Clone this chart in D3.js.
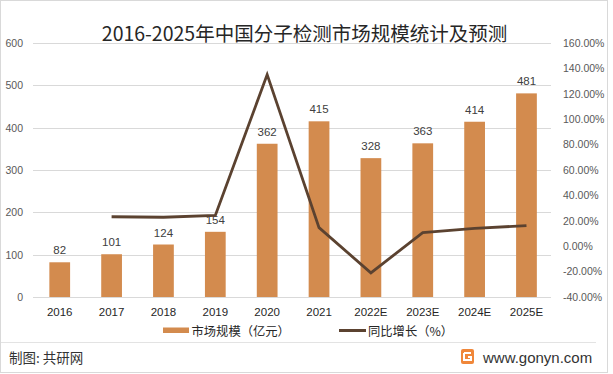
<!DOCTYPE html>
<html>
<head>
<meta charset="utf-8">
<script src="https://cdn.jsdelivr.net/npm/d3@7"></script>
<style>
  html, body { margin: 0; padding: 0; background: #fff; }
  svg { display: block; }
  text { font-family: "Liberation Sans", Arial, sans-serif; }
  .cjk { font-family: "Noto Sans CJK SC", "Noto Sans", sans-serif; }
</style>
</head>
<body>
<div id="chart"></div>
<script>
'use strict';

// data
var years = ['2016', '2017', '2018', '2019', '2020', '2021', '2022E', '2023E', '2024E', '2025E'];
var marketSize = [82, 101, 124, 154, 362, 415, 328, 363, 414, 481];          // 亿元
var growthRate = [null, 23.2, 22.8, 24.2, 135.1, 14.6, -21.0, 10.7, 14.0, 16.2]; // %
var leftTicks = [0, 100, 200, 300, 400, 500, 600];
var rightTicks = [-40, -20, 0, 20, 40, 60, 80, 100, 120, 140, 160];

var title = '2016-2025年中国分子检测市场规模统计及预测';
var barName = '市场规模（亿元）';
var lineName = '同比增长（%）';

var W = 613, H = 374;
var barColor = '#d38b4e';
var lineColor = '#5b4230';

var svg = d3.select('#chart').append('svg')
  .attr('width', W).attr('height', H);

// outer frame
svg.append('rect')
  .attr('x', 0.5).attr('y', 0.5)
  .attr('width', 607).attr('height', 372)
  .attr('fill', '#fff').attr('stroke', '#d9d9d9');

var x = d3.scaleBand().domain(years).range([33.8, 552.4]).paddingInner(0.6).paddingOuter(0.3);
var yL = d3.scaleLinear().domain([0, 600]).range([297, 43]);
var yR = d3.scaleLinear().domain([-40, 160]).range([297, 43]);

// gridlines
svg.append('g').selectAll('line')
  .data(leftTicks)
  .join('line')
  .attr('x1', 33).attr('x2', 551)
  .attr('y1', function(d) { return Math.round(yL(d)) + 0.5; })
  .attr('y2', function(d) { return Math.round(yL(d)) + 0.5; })
  .attr('stroke', '#d9d9d9');

// left axis
var leftAxis = svg.append('g')
  .attr('transform', 'translate(23,0)')
  .call(d3.axisLeft(yL).tickValues(leftTicks).tickSize(0).tickPadding(0));
leftAxis.select('.domain').remove();
leftAxis.selectAll('text')
  .attr('fill', '#595959')
  .style('font-size', '10.5px')
  .style('font-family', '"Liberation Sans", Arial, sans-serif');

// right axis
var rightAxis = svg.append('g')
  .attr('transform', 'translate(563,0)')
  .call(d3.axisRight(yR).tickValues(rightTicks).tickSize(0).tickPadding(0)
    .tickFormat(function(d) { return d.toFixed(2) + '%'; }));
rightAxis.select('.domain').remove();
rightAxis.selectAll('text')
  .attr('fill', '#595959')
  .style('font-size', '10.5px')
  .style('font-family', '"Liberation Sans", Arial, sans-serif');

// bars
svg.append('g').selectAll('rect')
  .data(marketSize)
  .join('rect')
  .attr('x', function(d, i) { return x(years[i]); })
  .attr('width', x.bandwidth())
  .attr('y', function(d) { return yL(d); })
  .attr('height', function(d) { return yL(0) - yL(d); })
  .attr('fill', barColor);

// bar value labels
svg.append('g').selectAll('text')
  .data(marketSize)
  .join('text')
  .attr('x', function(d, i) { return x(years[i]) + x.bandwidth() / 2; })
  .attr('y', function(d) { return yL(d) - 8; })
  .attr('text-anchor', 'middle')
  .attr('fill', '#404040')
  .style('font-size', '11.5px')
  .text(function(d) { return d; });

// growth line
var line = d3.line()
  .defined(function(d) { return d != null; })
  .x(function(d, i) { return x(years[i]) + x.bandwidth() / 2; })
  .y(function(d) { return yR(d); });

svg.append('path')
  .datum(growthRate)
  .attr('d', line)
  .attr('fill', 'none')
  .attr('stroke', lineColor)
  .attr('stroke-width', 2.8)
  .attr('stroke-linejoin', 'miter');

// x axis labels
var xAxis = svg.append('g')
  .attr('transform', 'translate(0,308)')
  .call(d3.axisBottom(x).tickSize(0).tickPadding(0));
xAxis.select('.domain').remove();
xAxis.selectAll('text')
  .attr('fill', '#262626')
  .attr('dy', '0.71em')
  .style('font-size', '11.5px')
  .style('font-family', '"Liberation Sans", Arial, sans-serif');

// title
svg.append('text')
  .attr('class', 'cjk')
  .attr('x', 304.5).attr('y', 41)
  .attr('text-anchor', 'middle')
  .attr('fill', '#262626')
  .style('font-size', '19.5px')
  .text(title);

// legend
var legend = svg.append('g');
legend.append('rect')
  .attr('x', 163).attr('y', 327.5)
  .attr('width', 26).attr('height', 5.5)
  .attr('fill', barColor);
legend.append('text')
  .attr('class', 'cjk')
  .attr('x', 191.5).attr('y', 330.5)
  .attr('dominant-baseline', 'central')
  .attr('fill', '#262626')
  .style('font-size', '12.3px')
  .text(barName);
legend.append('line')
  .attr('x1', 339).attr('x2', 366)
  .attr('y1', 330.5).attr('y2', 330.5)
  .attr('stroke', lineColor).attr('stroke-width', 3);
legend.append('text')
  .attr('class', 'cjk')
  .attr('x', 368).attr('y', 330.5)
  .attr('dominant-baseline', 'central')
  .attr('fill', '#262626')
  .style('font-size', '12.3px')
  .text(lineName);

// footer
svg.append('line')
  .attr('x1', 1).attr('x2', 596)
  .attr('y1', 342.5).attr('y2', 342.5)
  .attr('stroke', '#e3e3e3');

svg.append('text')
  .attr('class', 'cjk')
  .attr('x', 9).attr('y', 357)
  .attr('dominant-baseline', 'central')
  .attr('fill', '#333')
  .style('font-size', '13.5px')
  .text('制图: 共研网');

// little site logo
var logo = svg.append('g').attr('transform', 'translate(461,349)');
logo.append('rect')
  .attr('width', 13).attr('height', 15).attr('rx', 2)
  .attr('fill', '#f0873a');
logo.append('path')
  .attr('d', 'M3,4 H10 M3,4 V11 H10 V8 H7')
  .attr('fill', 'none').attr('stroke', '#fff').attr('stroke-width', 2);

svg.append('text')
  .attr('x', 483).attr('y', 357)
  .attr('dominant-baseline', 'central')
  .attr('fill', '#333')
  .style('font-size', '15px')
  .text('www.gonyn.com');
</script>
</body>
</html>
